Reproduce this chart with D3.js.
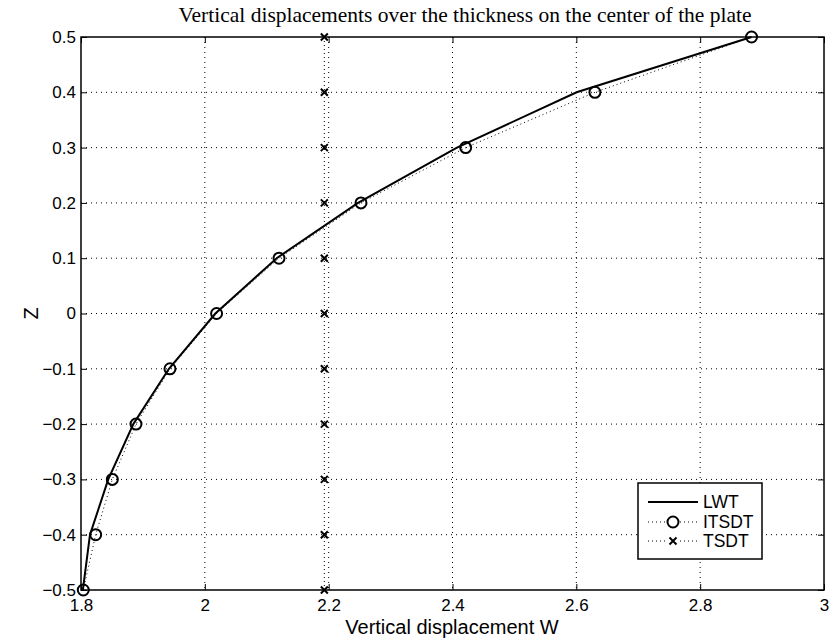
<!DOCTYPE html>
<html><head><meta charset="utf-8">
<script src="https://cdn.jsdelivr.net/npm/d3@7"></script>
<style>body{margin:0;background:#fff}svg{display:block}</style>
</head><body>
<svg id="c" width="832" height="641"></svg>
<script>
const zLevels = [-0.5,-0.4,-0.3,-0.2,-0.1,0,0.1,0.2,0.3,0.4,0.5];
const lwt   = [1.803,1.8145,1.844,1.8845,1.942,2.017,2.116,2.2474,2.4072,2.6005,2.883];
const itsdt = [1.8037,1.8237,1.8506,1.8888,1.9437,2.019,2.1198,2.2522,2.4213,2.630,2.883];
const tsdt  = [2.193,2.193,2.193,2.193,2.193,2.193,2.193,2.193,2.193,2.193,2.193];
const xTicks = [1.8,2,2.2,2.4,2.6,2.8,3];
const yTicks = [-0.5,-0.4,-0.3,-0.2,-0.1,0,0.1,0.2,0.3,0.4,0.5];
const legendNames = ["LWT","ITSDT","TSDT"];

const svg = d3.select("#c");
const L=81,R=824,T=37,B=590;
const x = d3.scaleLinear().domain([1.8,3]).range([L,R]);
const y = d3.scaleLinear().domain([-0.5,0.5]).range([B,T]);
const fmt = v => (v<0?"\u2212":"") + String(Math.abs(v));
const SANS = "Liberation Sans, Arial, Helvetica, sans-serif";

// grid
const g = svg.append("g");
g.selectAll(".vg").data(xTicks.slice(1,-1)).join("line")
  .attr("x1",d=>x(d)).attr("x2",d=>x(d)).attr("y1",T).attr("y2",B)
  .attr("stroke","#000").attr("stroke-width",1).attr("stroke-dasharray","1,4");
g.selectAll(".hg").data(yTicks.slice(1,-1)).join("line")
  .attr("y1",d=>y(d)).attr("y2",d=>y(d)).attr("x1",L).attr("x2",R)
  .attr("stroke","#000").attr("stroke-width",1).attr("stroke-dasharray","1,4");

// axes
const ax = svg.append("g").attr("transform",`translate(0,${B})`)
  .call(d3.axisBottom(x).tickValues(xTicks).tickSize(-6).tickPadding(9).tickFormat(fmt));
const ay = svg.append("g").attr("transform",`translate(${L},0)`)
  .call(d3.axisLeft(y).tickValues(yTicks).tickSize(-6).tickPadding(5).tickFormat(fmt));
const axt = svg.append("g").attr("transform",`translate(0,${T})`)
  .call(d3.axisTop(x).tickValues(xTicks).tickSize(-6).tickFormat(""));
const ayr = svg.append("g").attr("transform",`translate(${R},0)`)
  .call(d3.axisRight(y).tickValues(yTicks).tickSize(-6).tickFormat(""));
[ax,ay,axt,ayr].forEach(a=>{
  a.select(".domain").remove();
  a.selectAll("line").attr("stroke","#000").attr("stroke-width",1);
  a.selectAll("text").attr("font-family",SANS).attr("font-size",17).attr("fill","#000");
});
svg.append("rect").attr("x",L).attr("y",T).attr("width",R-L).attr("height",B-T)
  .attr("fill","none").attr("stroke","#000").attr("stroke-width",1.5);

// data lines
const line = d3.line().x(d=>x(d[0])).y(d=>y(d[1]));
const lw = lwt.map((v,i)=>[v,zLevels[i]]);
const it = itsdt.map((v,i)=>[v,zLevels[i]]);
const ts = tsdt.map((v,i)=>[v,zLevels[i]]);
svg.append("path").attr("d",line(ts)).attr("fill","none").attr("stroke","#000").attr("stroke-width",1).attr("stroke-dasharray","1,3");
svg.append("path").attr("d",line(it)).attr("fill","none").attr("stroke","#000").attr("stroke-width",1).attr("stroke-dasharray","1,3");
svg.append("path").attr("d",line(lw)).attr("fill","none").attr("stroke","#000").attr("stroke-width",2);
svg.selectAll(".circ").data(it).join("circle")
  .attr("cx",d=>x(d[0])).attr("cy",d=>y(d[1])).attr("r",5.5)
  .attr("fill","none").attr("stroke","#000").attr("stroke-width",2);
const xm = (sel,s)=>sel.append("path").attr("d",`M${-s},${-s}L${s},${s}M${-s},${s}L${s},${-s}`)
  .attr("stroke","#000").attr("stroke-width",2).attr("fill","none");
svg.selectAll(".xm").data(ts).join("g").attr("transform",d=>`translate(${x(d[0])},${y(d[1])})`)
  .each(function(){xm(d3.select(this),3.5);});

// title & labels
svg.append("text").attr("x",465).attr("y",22).attr("text-anchor","middle")
  .attr("font-family","Liberation Serif, Times New Roman, serif").attr("font-size",21.5)
  .text("Vertical displacements over the thickness on the center of the plate");
svg.append("text").attr("x",452).attr("y",634).attr("text-anchor","middle")
  .attr("font-family",SANS).attr("font-size",20)
  .text("Vertical displacement W");
svg.append("text").attr("transform",`translate(38,${y(0)}) rotate(-90)`).attr("text-anchor","middle")
  .attr("font-family",SANS).attr("font-size",20)
  .text("Z");

// legend
const lg = svg.append("g");
lg.append("rect").attr("x",638).attr("y",483).attr("width",124).attr("height",76)
  .attr("fill","#fff").attr("stroke","#000").attr("stroke-width",1.5);
const ly = [502,522,541];
legendNames.forEach((n,i)=>{
  const row = lg.append("g");
  row.append("line").attr("x1",648).attr("x2",698).attr("y1",ly[i]).attr("y2",ly[i])
    .attr("stroke","#000").attr("stroke-width",i===0?2:1).attr("stroke-dasharray",i===0?null:"1,3");
  if(i===1) row.append("circle").attr("cx",673).attr("cy",ly[i]).attr("r",5.5).attr("fill","#fff").attr("stroke","#000").attr("stroke-width",2);
  if(i===2){ const gg=row.append("g").attr("transform",`translate(673,${ly[i]})`); gg.append("rect").attr("x",-5).attr("y",-5).attr("width",10).attr("height",10).attr("fill","#fff"); xm(gg,3.5); }
  row.append("text").attr("x",703).attr("y",ly[i]+6).attr("font-family",SANS)
    .attr("font-size",17.5).text(n);
});
</script>
</body></html>
